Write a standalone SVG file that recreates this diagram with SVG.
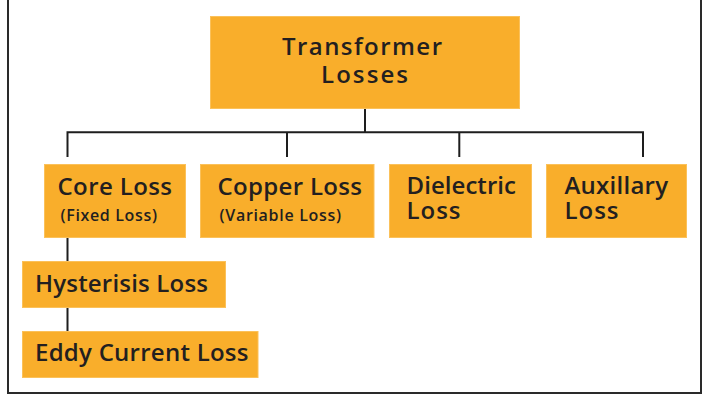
<svg xmlns="http://www.w3.org/2000/svg" width="705" height="397" viewBox="0 0 705 397">
<style>
.box{fill:#F9AE2B;stroke:#FBC15A;stroke-width:1}
.t{font-family:"Open Sans","Liberation Sans",sans-serif;font-weight:600;font-size:24px;fill:#231F20}
.s{font-family:"Open Sans","Liberation Sans",sans-serif;font-weight:600;font-size:16px;fill:#231F20}
.c{fill:none;stroke:#1E1E1E;stroke-width:2}
</style>
<rect width="705" height="397" fill="#FFFFFF"/>
<rect x="8" y="-10" width="693" height="403" fill="none" stroke="#2A2A2A" stroke-width="2"/>
<g id="connectors">
<path class="c" d="M365 108.5V132.3M67.5 132.3H643M67.5 131.3V157M287 131.3V157M459.3 131.3V157M643 131.3V157"/>
<path class="c" d="M67.5 237.5V261.5M67.5 307.5V332"/>
</g>
<g id="transformer-losses">
<rect class="box" x="210.5" y="16.5" width="309" height="92"/>
<text class="t" x="282" y="55" font-size="25" textLength="160" lengthAdjust="spacing">Transformer</text>
<text class="t" x="321" y="83.3" font-size="25" textLength="87" lengthAdjust="spacing">Losses</text>
</g>
<g id="core-loss">
<rect class="box" x="44.5" y="164.5" width="141" height="73"/>
<text class="t" x="57.5" y="195" textLength="114.5" lengthAdjust="spacing">Core Loss</text>
<text class="s" x="60.5" y="220.7" textLength="96.5" lengthAdjust="spacing">(Fixed Loss)</text>
</g>
<g id="copper-loss">
<rect class="box" x="200.5" y="164.5" width="173.5" height="73"/>
<text class="t" x="217.5" y="195" textLength="144.5" lengthAdjust="spacing">Copper Loss</text>
<text class="s" x="219.5" y="220.7" textLength="121.5" lengthAdjust="spacing">(Variable Loss)</text>
</g>
<g id="dielectric-loss">
<rect class="box" x="389.5" y="164.5" width="142" height="73"/>
<text class="t" x="406.5" y="194.3" textLength="109.5" lengthAdjust="spacing">Dielectric</text>
<text class="t" x="406.5" y="219" textLength="54" lengthAdjust="spacing">Loss</text>
</g>
<g id="auxillary-loss">
<rect class="box" x="546.5" y="164.5" width="140" height="73"/>
<text class="t" x="564.5" y="194.3" textLength="103.5" lengthAdjust="spacing">Auxillary</text>
<text class="t" x="564.5" y="219" textLength="54" lengthAdjust="spacing">Loss</text>
</g>
<g id="hysterisis-loss">
<rect class="box" x="22.5" y="261.5" width="203" height="46"/>
<text class="t" x="35" y="291.7" textLength="173" lengthAdjust="spacing">Hysterisis Loss</text>
</g>
<g id="eddy-current-loss">
<rect class="box" x="22.5" y="331.5" width="235.5" height="46"/>
<text class="t" x="35" y="360.7" textLength="213.5" lengthAdjust="spacing">Eddy Current Loss</text>
</g>
</svg>
